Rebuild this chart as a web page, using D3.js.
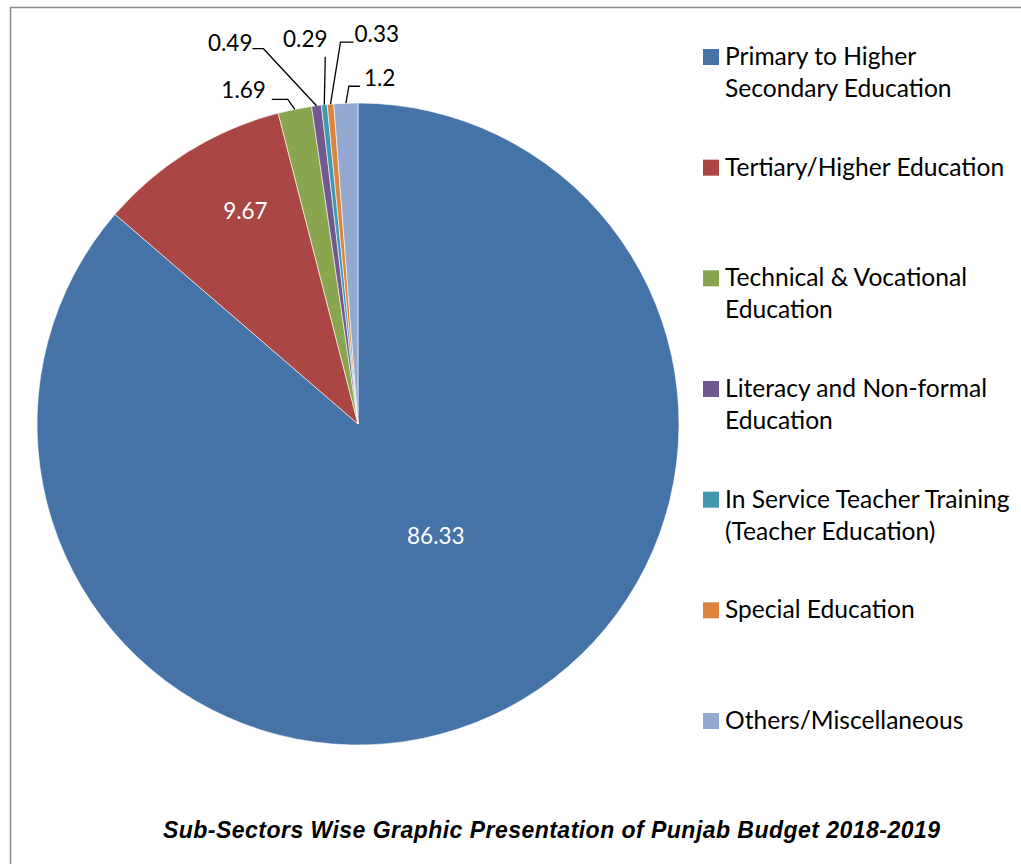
<!DOCTYPE html>
<html>
<head>
<meta charset="utf-8">
<script src="https://cdn.jsdelivr.net/npm/d3@7"></script>
<style>
  html, body { margin: 0; padding: 0; background: #fff; }
  svg { display: block; }
</style>
</head>
<body>
<svg id="chart" width="1021" height="864"></svg>
<script>
const categories = [
  ["Primary to Higher", "Secondary Education"],
  ["Tertiary/Higher Education"],
  ["Technical & Vocational", "Education"],
  ["Literacy and Non-formal", "Education"],
  ["In Service Teacher Training", "(Teacher Education)"],
  ["Special Education"],
  ["Others/Miscellaneous"]
];
const values = [86.33, 9.67, 1.69, 0.49, 0.29, 0.33, 1.2];
const valueLabels = ["86.33", "9.67", "1.69", "0.49", "0.29", "0.33", "1.2"];
const colors = ["#4572A7", "#AA4643", "#89A54E", "#71588F", "#4198AF", "#DB843D", "#93A9CF"];
const title = "Sub-Sectors Wise Graphic Presentation of Punjab Budget 2018-2019";

// layout (not data)
const cx = 358, cy = 424, R = 321;
const labelFont = "Lato, 'Open Sans', sans-serif";
const labelSize = 22.5;
const legendSize = 24.6;
// inside labels: offset from centroid; outside labels: text pos and leader elbow relative to outer anchor
const labelLayout = [
  { inside: true, dx: 11, dy: -34 },
  { inside: true, dx: -28, dy: -77 },
  { inside: false, tx: -29, ty: -11, elbow: [[-7, -10], [-23, -10]], anchor: "end" },
  { inside: false, tx: -64, ty: -55, elbow: [[-53, -57], [-64, -57]], anchor: "end" },
  { inside: false, tx: -19, ty: -58, elbow: [[1, -48]], anchor: "middle" },
  { inside: false, tx: 24, ty: -62, elbow: [[10, -62], [23, -62]], anchor: "start" },
  { inside: false, tx: 18, ty: -17, elbow: [[3, -17], [14, -17]], anchor: "start" }
];

const svg = d3.select("#chart");

// chart border
svg.append("rect")
  .attr("x", 10.5).attr("y", 7.5)
  .attr("width", 1100).attr("height", 1000)
  .attr("fill", "none").attr("stroke", "#888").attr("stroke-width", 1.5);

const pie = d3.pie().sort(null).value(d => d);
const arcs = pie(values);
const arc = d3.arc().innerRadius(0).outerRadius(R);
const outerArc = d3.arc().innerRadius(R).outerRadius(R);

const g = svg.append("g").attr("transform", `translate(${cx},${cy})`);

g.selectAll("path.slice")
  .data(arcs)
  .join("path")
  .attr("class", "slice")
  .attr("d", arc)
  .attr("fill", (d, i) => colors[i])
  .attr("stroke", "#fff")
  .attr("stroke-width", 0.6);

// labels
arcs.forEach((d, i) => {
  const L = labelLayout[i];
  if (L.inside) {
    const c = arc.centroid(d);
    g.append("text")
      .attr("x", c[0] + L.dx).attr("y", c[1] + L.dy)
      .attr("text-anchor", "middle")
      .attr("dominant-baseline", "central")
      .attr("fill", "#fff")
      .attr("font-family", labelFont)
      .attr("font-size", labelSize)
      .text(valueLabels[i]);
  } else {
    const a = outerArc.centroid(d);
    const pts = [a].concat(L.elbow.map(p => [a[0] + p[0], a[1] + p[1]]));
    g.append("path")
      .attr("d", d3.line()(pts))
      .attr("fill", "none")
      .attr("stroke", "#000")
      .attr("stroke-width", 1.3);
    g.append("text")
      .attr("x", a[0] + L.tx).attr("y", a[1] + L.ty)
      .attr("text-anchor", L.anchor)
      .attr("dominant-baseline", "alphabetic")
      .attr("fill", "#000")
      .attr("font-family", labelFont)
      .attr("font-size", labelSize)
      .text(valueLabels[i]);
  }
});

// legend
const legY = d3.scaleLinear().domain([0, categories.length - 1]).range([65, 729]);
const leg = svg.append("g");
categories.forEach((lines, i) => {
  const y = legY(i);
  leg.append("rect")
    .attr("x", 703).attr("y", y - 16)
    .attr("width", 16).attr("height", 16)
    .attr("fill", colors[i]);
  lines.forEach((t, j) => {
    leg.append("text")
      .attr("x", 725).attr("y", y + j * 32)
      .attr("font-family", labelFont)
      .attr("font-size", legendSize)
      .attr("fill", "#000")
      .text(t);
  });
});

// title
svg.append("text")
  .attr("x", 163).attr("y", 838)
  .attr("text-anchor", "start")
  .attr("font-family", "'Liberation Sans', Arial, sans-serif")
  .attr("font-weight", "bold")
  .attr("font-style", "italic")
  .attr("font-size", 23)
  .attr("textLength", 777)
  .attr("lengthAdjust", "spacing")
  .attr("fill", "#000")
  .text(title);
</script>
</body>
</html>
